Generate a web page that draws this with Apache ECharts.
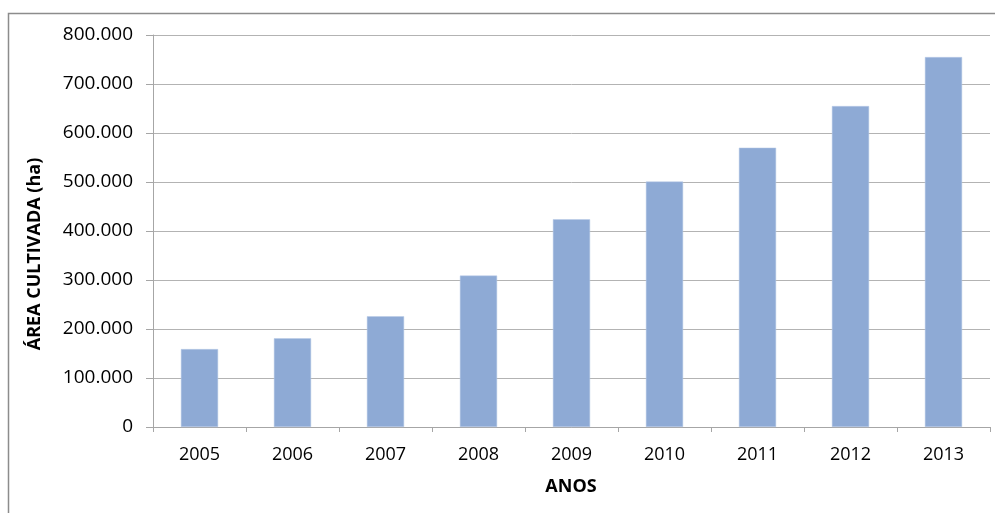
<!DOCTYPE html>
<html>
<head>
<meta charset="utf-8">
<script src="https://cdn.jsdelivr.net/npm/echarts@6/dist/echarts.min.js"></script>
<style>
  html, body { margin: 0; padding: 0; background: #fff; }
  #chart { width: 995px; height: 513px; }
</style>
</head>
<body>
<div id="chart"></div>
<script>
// anos e área cultivada (ha)
var anos = ["2005", "2006", "2007", "2008", "2009", "2010", "2011", "2012", "2013"];
var area = [159000, 181000, 226000, 309000, 424000, 501000, 570000, 655000, 755000];

var chart = echarts.init(document.getElementById("chart"));

// separador de milhar com ponto
function fmt(v) {
  return String(v).replace(/\B(?=(\d{3})+(?!\d))/g, ".");
}

chart.setOption({
  animation: false,
  textStyle: { fontFamily: "Open Sans" },
  grid: { left: 153, right: 5, top: 35, bottom: 86 },
  graphic: [
    {
      type: "rect",
      shape: { x: 8.5, y: 13.5, width: 1000, height: 520 },
      style: { fill: "none", stroke: "#8c8c8c", lineWidth: 1.5 },
      silent: true
    },
    {
      type: "text",
      x: 35,
      y: 254,
      rotation: Math.PI / 2,
      style: {
        text: "ÁREA CULTIVADA (ha)",
        fontFamily: "Open Sans",
        fontWeight: "bold",
        fontSize: 18,
        fill: "#000",
        align: "center",
        verticalAlign: "middle"
      }
    },
    {
      type: "text",
      x: 571,
      y: 487,
      style: {
        text: "ANOS",
        fontFamily: "Open Sans",
        fontWeight: "bold",
        fontSize: 18,
        fill: "#000",
        align: "center",
        verticalAlign: "middle"
      }
    }
  ],
  xAxis: {
    type: "category",
    data: anos,
    axisLine: { lineStyle: { color: "#a6a6a6", width: 1 } },
    axisTick: { show: true, length: 5, alignWithLabel: false, lineStyle: { color: "#a6a6a6" } },
    axisLabel: { color: "#000", fontSize: 18, margin: 19 }
  },
  yAxis: {
    type: "value",
    min: 0,
    max: 800000,
    interval: 100000,
    axisLine: { show: true, lineStyle: { color: "#a6a6a6", width: 1 } },
    axisTick: { show: true, length: 7, lineStyle: { color: "#a6a6a6" } },
    axisLabel: { color: "#000", fontSize: 19, margin: 20, formatter: fmt },
    splitLine: { lineStyle: { color: "#b3b3b3", width: 1 } }
  },
  series: [
    {
      type: "bar",
      data: area,
      barCategoryGap: "60%",
      itemStyle: { color: "#8eaad5", borderColor: "#b9cbe6", borderWidth: 0.5 }
    }
  ]
});
</script>
</body>
</html>
